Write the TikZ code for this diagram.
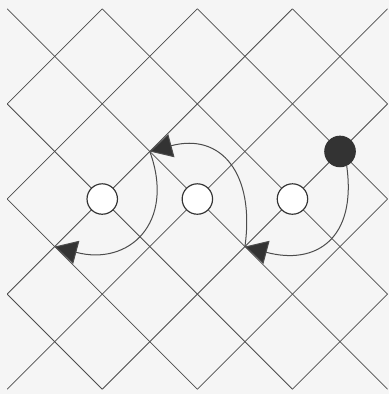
\documentclass[tikz,border=0pt]{standalone}
\usetikzlibrary{arrows.meta}

\begin{document}
\begin{tikzpicture}[
  gridline/.style={draw=black!70,line width=0.45pt},
  piece/.style={circle,draw=black!80,fill=white,line width=0.7pt,minimum size=0.64cm,inner sep=0pt},
  king/.style={piece,fill=black!80},
  jump/.style={-{Triangle[length=4.7mm,width=5.0mm,fill=black!80]},draw=black!70,line width=0.6pt}
]

% Papier und Rahmen
\fill[black!4] (-0.15,-0.1) rectangle (8.03,8.185);

% Schraeges Gitter
\begin{scope}
  \clip (0,0) rectangle (8,8);
  \foreach \k in {2,4,...,14}
    \draw[gridline] ({\k-8},8) -- (\k,0);
  \foreach \k in {-6,-4,...,6}
    \draw[gridline] (\k,0) -- ({\k+8},8);
\end{scope}

% Steine
\node[piece] (left) at (2,4) {};
\node[piece] (middle) at (4,4) {};
\node[piece] (right) at (6,4) {};
\node[king] (dame) at (7,5) {};

% Landefelder
\coordinate (land1) at (5,3);
\coordinate (land2) at (3,5);
\coordinate (land3) at (1,3);

% Sprungfolge
\draw[jump] (dame.-65) to[out=-82,in=-15,looseness=1.45] (land1);
\draw[jump] (land1) to[out=82,in=15,looseness=1.4] (land2);
\draw[jump] (land2) to[out=-70,in=-15,looseness=1.45] (land3);

\end{tikzpicture}
\end{document}
